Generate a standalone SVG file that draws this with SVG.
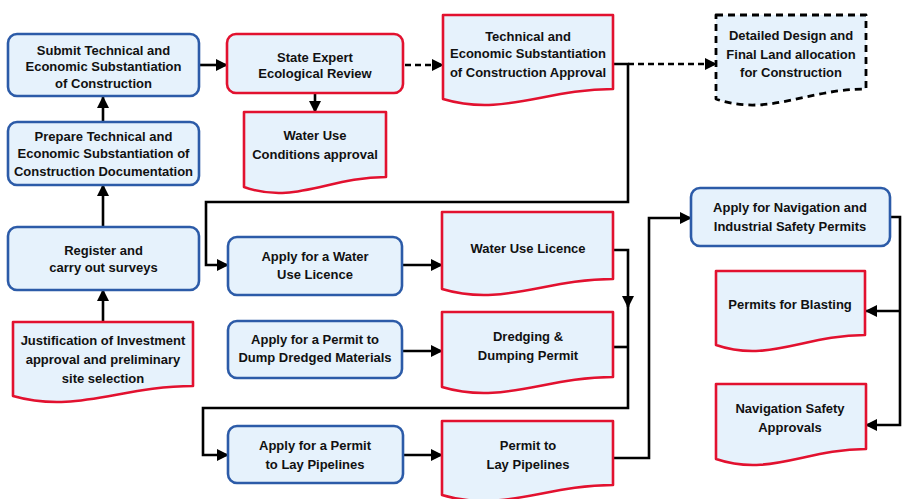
<svg xmlns="http://www.w3.org/2000/svg" width="907" height="499" viewBox="0 0 907 499">
<defs>
<marker id="ah" markerUnits="userSpaceOnUse" markerWidth="12" markerHeight="12" viewBox="0 0 12 12" refX="11" refY="6" orient="auto">
<path d="M0,0 L12,6 L0,12 Z" fill="#000"/>
</marker>
<style>
.box{fill:#e6f2fc;stroke:#2c5ba8;stroke-width:2.6}
.rbox{fill:#e6f2fc;stroke:#e2112f;stroke-width:2.6}
.doc{fill:#e6f2fc;stroke:#e2112f;stroke-width:2.6;stroke-linejoin:round}
.ddoc{fill:#e6f2fc;stroke:#000;stroke-width:2.8;stroke-dasharray:7 5;stroke-linejoin:round}
.c{fill:none;stroke:#000;stroke-width:2.6}
.d{fill:none;stroke:#000;stroke-width:2.6;stroke-dasharray:6 4}
.a{marker-end:url(#ah)}
text{font-family:"Liberation Sans",Arial,sans-serif;font-weight:bold;font-size:13px;fill:#111;text-anchor:middle}
</style>
</defs>
<g id="connectors">
<path class="c a" d="M199,65 H227"/>
<path class="c a" d="M103,122 V97"/>
<path class="c a" d="M103,227 V185"/>
<path class="c a" d="M103,322 V290"/>
<path class="c a" d="M315,93 V112"/>
<path class="d a" d="M405,65 H443"/>
<path class="d a" d="M628,64 H716"/>
<path class="c a" d="M613,64 H628 V202 H206 V265 H228"/>
<path class="c a" d="M402,265 H442"/>
<path class="c a" d="M402,351 H442"/>
<path class="c a" d="M613,250 H628 V307"/>
<path class="c a" d="M628,300 V408 H203 V455 H228"/>
<path class="c" d="M613,347 H628"/>
<path class="c a" d="M403,455 H442"/>
<path class="c a" d="M613,458 H649 V218 H691"/>
<path class="c a" d="M890,217 H900 V425 H866"/>
<path class="c a" d="M900,311 H866"/>
</g>
<g id="submit">
<rect class="box" x="8" y="34" width="191" height="62" rx="9"/>
<text x="103.5" y="55">Submit Technical and</text>
<text x="103.5" y="71">Economic Substantiation</text>
<text x="103.5" y="88">of Construction</text>
</g>
<g id="prepare">
<rect class="box" x="8" y="122" width="191" height="63" rx="9"/>
<text x="103.5" y="141">Prepare Technical and</text>
<text x="103.5" y="158">Economic Substantiation of</text>
<text x="103.5" y="176">Construction Documentation</text>
</g>
<g id="register">
<rect class="box" x="8" y="227" width="191" height="63" rx="9"/>
<text x="103.5" y="255">Register and</text>
<text x="103.5" y="272">carry out surveys</text>
</g>
<g id="justification">
<path class="doc" d="M13,322 H193 V386 C121,386 76,414 13,396 Z"/>
<text x="103" y="345">Justification of Investment</text>
<text x="103" y="364">approval and preliminary</text>
<text x="103" y="383">site selection</text>
</g>
<g id="state-expert">
<rect class="rbox" x="227" y="34" width="176" height="59" rx="9"/>
<text x="315" y="62">State Expert</text>
<text x="315" y="78">Ecological Review</text>
</g>
<g id="water-use-conditions">
<path class="doc" d="M244,112 H386 V177 C329,177 294,205 244,187 Z"/>
<text x="315" y="140">Water Use</text>
<text x="315" y="159">Conditions approval</text>
</g>
<g id="tech-approval">
<path class="doc" d="M443,15 H613 V89 C545,89 503,117 443,99 Z"/>
<text x="528" y="41">Technical and</text>
<text x="528" y="58">Economic Substantiation</text>
<text x="528" y="77">of Construction Approval</text>
</g>
<g id="detailed-design">
<path class="ddoc" d="M716,15 H866 V89 C806,89 769,117 716,99 Z"/>
<text x="791" y="40">Detailed Design and</text>
<text x="791" y="59">Final Land allocation</text>
<text x="791" y="77">for Construction</text>
</g>
<g id="apply-water">
<rect class="box" x="228" y="237" width="174" height="58" rx="9"/>
<text x="315" y="261">Apply for a Water</text>
<text x="315" y="279">Use Licence</text>
</g>
<g id="water-licence">
<path class="doc" d="M442,212 H613 V279 C545,279 502,307 442,289 Z"/>
<text x="528" y="253">Water Use Licence</text>
</g>
<g id="apply-dump">
<rect class="box" x="228" y="321" width="174" height="57" rx="9"/>
<text x="315" y="344">Apply for a Permit to</text>
<text x="315" y="362">Dump Dredged Materials</text>
</g>
<g id="dredging-permit">
<path class="doc" d="M442,312 H613 V377 C545,377 502,405 442,387 Z"/>
<text x="528" y="341">Dredging &amp;</text>
<text x="528" y="360">Dumping Permit</text>
</g>
<g id="apply-pipelines">
<rect class="box" x="228" y="426" width="175" height="57" rx="9"/>
<text x="315" y="450">Apply for a Permit</text>
<text x="315" y="469">to Lay Pipelines</text>
</g>
<g id="pipeline-permit">
<path class="doc" d="M442,421 H613 V485 C545,485 502,513 442,495 Z"/>
<text x="528" y="450">Permit to</text>
<text x="528" y="469">Lay Pipelines</text>
</g>
<g id="apply-navigation">
<rect class="box" x="691" y="188" width="199" height="58" rx="9"/>
<text x="790" y="212">Apply for Navigation and</text>
<text x="790" y="231">Industrial Safety Permits</text>
</g>
<g id="blasting-permits">
<path class="doc" d="M716,271 H865 V335 C805,335 768,363 716,345 Z"/>
<text x="790" y="309">Permits for Blasting</text>
</g>
<g id="navigation-approvals">
<path class="doc" d="M716,384 H866 V449 C806,449 769,477 716,459 Z"/>
<text x="790" y="413">Navigation Safety</text>
<text x="790" y="432">Approvals</text>
</g>
</svg>
